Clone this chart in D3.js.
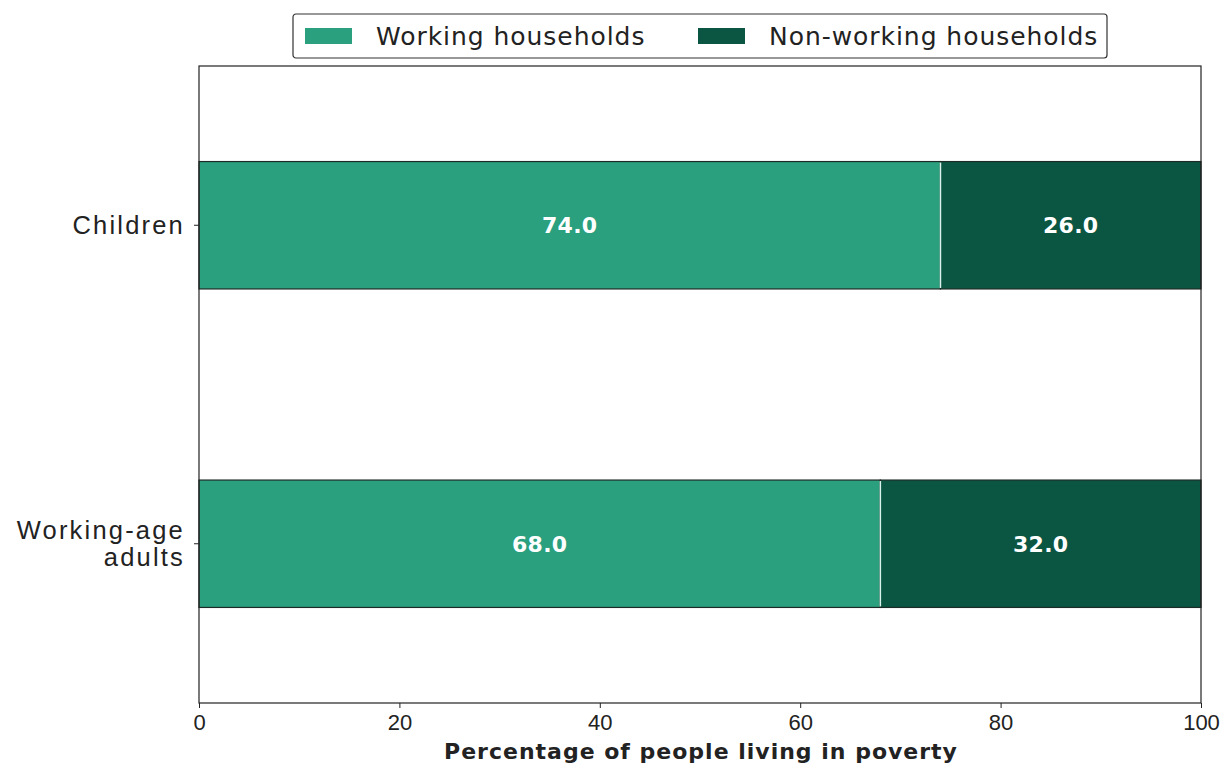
<!DOCTYPE html>
<html>
<head>
<meta charset="utf-8">
<script src="https://cdn.jsdelivr.net/npm/d3@7"></script>
<style>
  html, body { margin: 0; padding: 0; background: #fff; }
  svg { display: block; font-family: "DejaVu Sans", "Open Sans", sans-serif; }
</style>
</head>
<body>
<svg id="chart" width="1227" height="767"></svg>
<script>
// Share of people in poverty by household work status
const categories = ["Children", "Working-age adults"];
const seriesNames = ["Working households", "Non-working households"];
const working = [74.0, 68.0];
const nonWorking = [26.0, 32.0];
const xTicks = [0, 20, 40, 60, 80, 100];
const colors = ["#2aa07f", "#0b5643"];

const width = 1227, height = 767;
const margin = { top: 66, right: 26, bottom: 64, left: 199 };
const svg = d3.select("#chart");
const innerW = width - margin.left - margin.right;
const innerH = height - margin.top - margin.bottom;

const g = svg.append("g").attr("transform", `translate(${margin.left},${margin.top})`);

const x = d3.scaleLinear().domain([0, 100]).range([0, innerW]);
const y = d3.scaleBand().domain(categories).range([0, innerH]).paddingInner(0.6).paddingOuter(0.3);

const rows = categories.map((c, i) => ({ cat: c, vals: [working[i], nonWorking[i]] }));
const stacked = d3.stack().keys([0, 1]).value((d, k) => d.vals[k])(rows);

// stacked segments
stacked.forEach((layer, k) => {
  g.selectAll(null).data(layer).enter().append("rect")
    .attr("x", d => x(d[0]))
    .attr("y", d => y(d.data.cat))
    .attr("width", d => x(d[1]) - x(d[0]))
    .attr("height", y.bandwidth())
    .attr("fill", colors[k])
    .attr("stroke", "#1d2b26")
    .attr("stroke-width", 1.2);
});

// light divider between the two segments
g.selectAll(null).data(stacked[0]).enter().append("line")
  .attr("x1", d => x(d[1])).attr("x2", d => x(d[1]))
  .attr("y1", d => y(d.data.cat) + 1).attr("y2", d => y(d.data.cat) + y.bandwidth() - 1)
  .attr("stroke", "#d8f3ea").attr("stroke-width", 1.5);

// value labels
stacked.forEach((layer) => {
  g.selectAll(null).data(layer).enter().append("text")
    .attr("x", d => x((d[0] + d[1]) / 2))
    .attr("y", d => y(d.data.cat) + y.bandwidth() / 2)
    .attr("dy", "0.36em")
    .attr("text-anchor", "middle")
    .attr("fill", "#fff")
    .attr("font-weight", "bold")
    .attr("font-size", 22)
    .attr("letter-spacing", 0.3)
    .text(d => (d[1] - d[0]).toFixed(1));
});

// frame
g.append("rect").attr("x", 0).attr("y", 0).attr("width", innerW).attr("height", innerH)
  .attr("fill", "none").attr("stroke", "#222").attr("stroke-width", 1.2);

// x axis
const xAxis = g.append("g").attr("transform", `translate(0,${innerH})`)
  .call(d3.axisBottom(x).tickValues(xTicks).tickSize(5).tickPadding(6).tickFormat(d3.format("d")));
xAxis.select(".domain").remove();
xAxis.selectAll("text").attr("font-size", 22).attr("fill", "#222").attr("font-family", "inherit");
xAxis.selectAll("line").attr("stroke", "#222");

// y axis
const yAxis = g.append("g")
  .call(d3.axisLeft(y).tickSize(5).tickPadding(6).tickFormat(""));
yAxis.select(".domain").remove();
yAxis.selectAll("line").attr("stroke", "#222");
yAxis.selectAll(".tick").each(function (d) {
  const words = d === "Working-age adults" ? ["Working-age", "adults"] : [d];
  const t = d3.select(this).append("text")
    .attr("text-anchor", "end")
    .attr("fill", "#222").attr("font-size", 25.5).attr("letter-spacing", 2.2);
  const offset = -(words.length - 1) / 2 * 27;
  words.forEach((w, i) => {
    t.append("tspan").attr("x", -14).attr("y", offset + i * 27).attr("dy", "0.36em").text(w);
  });
});

// x axis title
svg.append("text")
  .attr("x", margin.left + innerW / 2 + 1).attr("y", 759)
  .attr("text-anchor", "middle").attr("font-weight", "bold").attr("font-size", 22)
  .attr("letter-spacing", 1).attr("fill", "#222")
  .text("Percentage of people living in poverty");

// legend
const legend = svg.append("g").attr("transform", "translate(293,14)");
legend.append("rect").attr("width", 814).attr("height", 44).attr("rx", 3)
  .attr("fill", "#fff").attr("stroke", "#333").attr("stroke-width", 1.2);
const legendX = [12, 405];
seriesNames.forEach((name, i) => {
  legend.append("rect").attr("x", legendX[i]).attr("y", 14).attr("width", 47).attr("height", 16).attr("fill", colors[i]);
  legend.append("text").attr("x", legendX[i] + 71).attr("y", 22).attr("dy", "0.36em")
    .attr("font-size", 25).attr("letter-spacing", 0.95).attr("fill", "#222").text(name);
});
</script>
</body>
</html>
